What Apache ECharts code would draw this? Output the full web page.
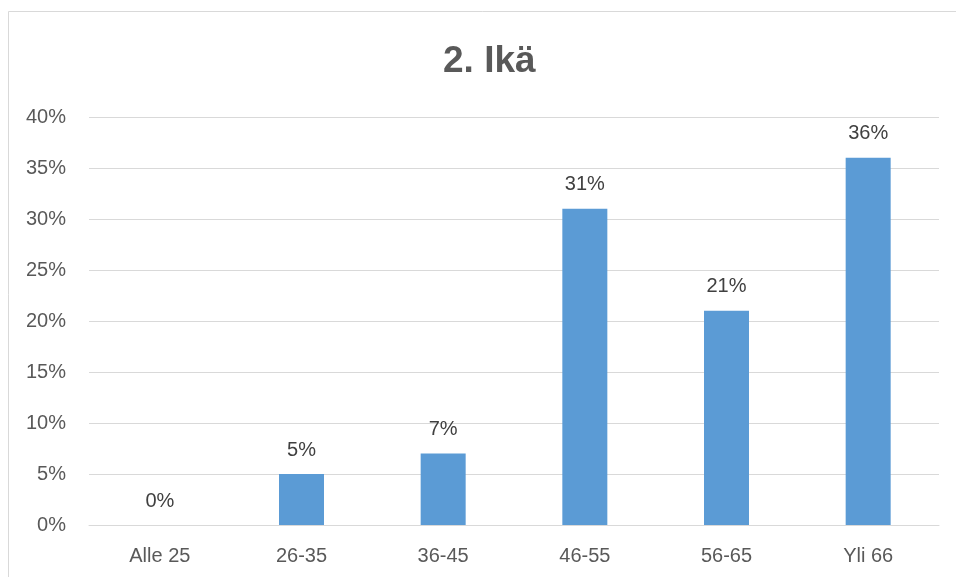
<!DOCTYPE html>
<html>
<head>
<meta charset="utf-8">
<script src="https://cdn.jsdelivr.net/npm/echarts@6/dist/echarts.min.js"></script>
<style>
  html, body { margin: 0; padding: 0; background: #fff; }
  #main { width: 956px; height: 577px; }
</style>
</head>
<body>
<div id="main"></div>
<script>
const categories = ['Alle 25', '26-35', '36-45', '46-55', '56-65', 'Yli 66']
const values = [0, 5, 7, 31, 21, 36]
const yMax = 40
const yStep = 5

const chart = echarts.init(document.getElementById('main'), null, { renderer: 'canvas' })
const font = '"Liberation Sans", Arial, sans-serif'

const option = {
  backgroundColor: '#fff',
  animation: false,
  textStyle: { fontFamily: font },
  graphic: [
    {
      type: 'rect',
      shape: { x: 8.5, y: 11.5, width: 960, height: 600 },
      style: { fill: 'none', stroke: '#d9d9d9', lineWidth: 1 },
      silent: true
    }
  ],
  title: {
    text: '2. Ikä',
    left: 438,
    top: 38,
    textStyle: { fontSize: 37, fontWeight: 'bold', color: '#595959', fontFamily: font }
  },
  grid: { left: 89, right: 17, top: 117, bottom: 52 },
  xAxis: {
    type: 'category',
    data: categories,
    axisTick: { show: false },
    axisLine: { lineStyle: { color: '#d9d9d9', width: 1 } },
    axisLabel: { color: '#595959', fontSize: 20, margin: 21 }
  },
  yAxis: {
    type: 'value',
    min: 0,
    max: yMax,
    interval: yStep,
    axisLine: { show: false },
    axisTick: { show: false },
    splitLine: { lineStyle: { color: '#d9d9d9', width: 1 } },
    axisLabel: { color: '#595959', fontSize: 20, margin: 23, formatter: '{value}%' }
  },
  series: [
    {
      type: 'bar',
      data: values,
      barWidth: 45,
      itemStyle: { color: '#5b9bd5' },
      label: {
        show: true,
        position: 'top',
        distance: 14,
        color: '#404040',
        fontSize: 20,
        formatter: p => p.value + '%'
      }
    }
  ]
}

chart.setOption(option)
</script>
</body>
</html>
